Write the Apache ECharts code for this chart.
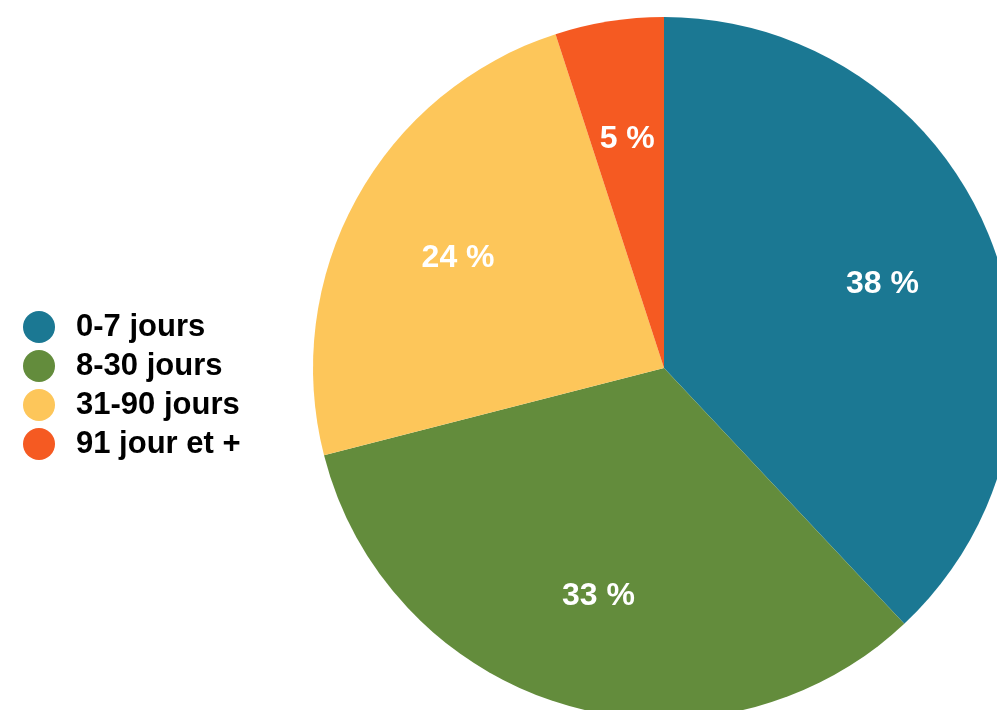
<!DOCTYPE html>
<html>
<head>
<meta charset="utf-8">
<script src="https://cdn.jsdelivr.net/npm/echarts@6/dist/echarts.min.js"></script>
<style>
  html, body { margin: 0; padding: 0; background: #fff; }
  #chart { width: 997px; height: 710px; }
</style>
</head>
<body>
<div id="chart"></div>
<script>
// Répartition par durée
const categories = ['0-7 jours', '8-30 jours', '31-90 jours', '91 jour et +'];
const values = [38, 33, 24, 5];
const colors = ['#1b7893', '#638c3c', '#fdc65a', '#f55a22'];

const data = categories.map((name, i) => ({ name, value: values[i] }));
const center = [664, 368];
const R = 351;

const chart = echarts.init(document.getElementById('chart'), null, { renderer: 'canvas' });
chart.setOption({
  animation: false,
  color: colors,
  legend: {
    orient: 'vertical',
    left: 18,
    top: 306,
    icon: 'circle',
    itemWidth: 32,
    itemHeight: 32,
    itemGap: 7,
    data: categories,
    textStyle: {
      fontFamily: 'Liberation Sans, Arial, sans-serif',
      fontWeight: 'bold',
      fontSize: 31,
      color: '#000',
      padding: [0, 0, 0, 16]
    },
    selectedMode: false
  },
  series: [
    {
      type: 'pie',
      center: center,
      radius: [0, R],
      startAngle: 90,
      clockwise: true,
      data: data,
      label: { show: false },
      labelLine: { show: false },
      itemStyle: { borderWidth: 0 },
      emphasis: { disabled: true },
      silent: true
    },
    {
      // transparent ring used only to place the percentage labels
      type: 'pie',
      center: center,
      radius: [113, R],
      startAngle: 90,
      clockwise: true,
      data: data,
      itemStyle: { color: 'rgba(0,0,0,0)', borderWidth: 0 },
      label: {
        show: true,
        position: 'inside',
        offset: [0, 3],
        formatter: p => p.value + ' %',
        color: '#fff',
        fontFamily: 'Liberation Sans, Arial, sans-serif',
        fontWeight: 'bold',
        fontSize: 32
      },
      labelLine: { show: false },
      emphasis: { disabled: true },
      silent: true,
      legendHoverLink: false
    }
  ]
});
</script>
</body>
</html>
